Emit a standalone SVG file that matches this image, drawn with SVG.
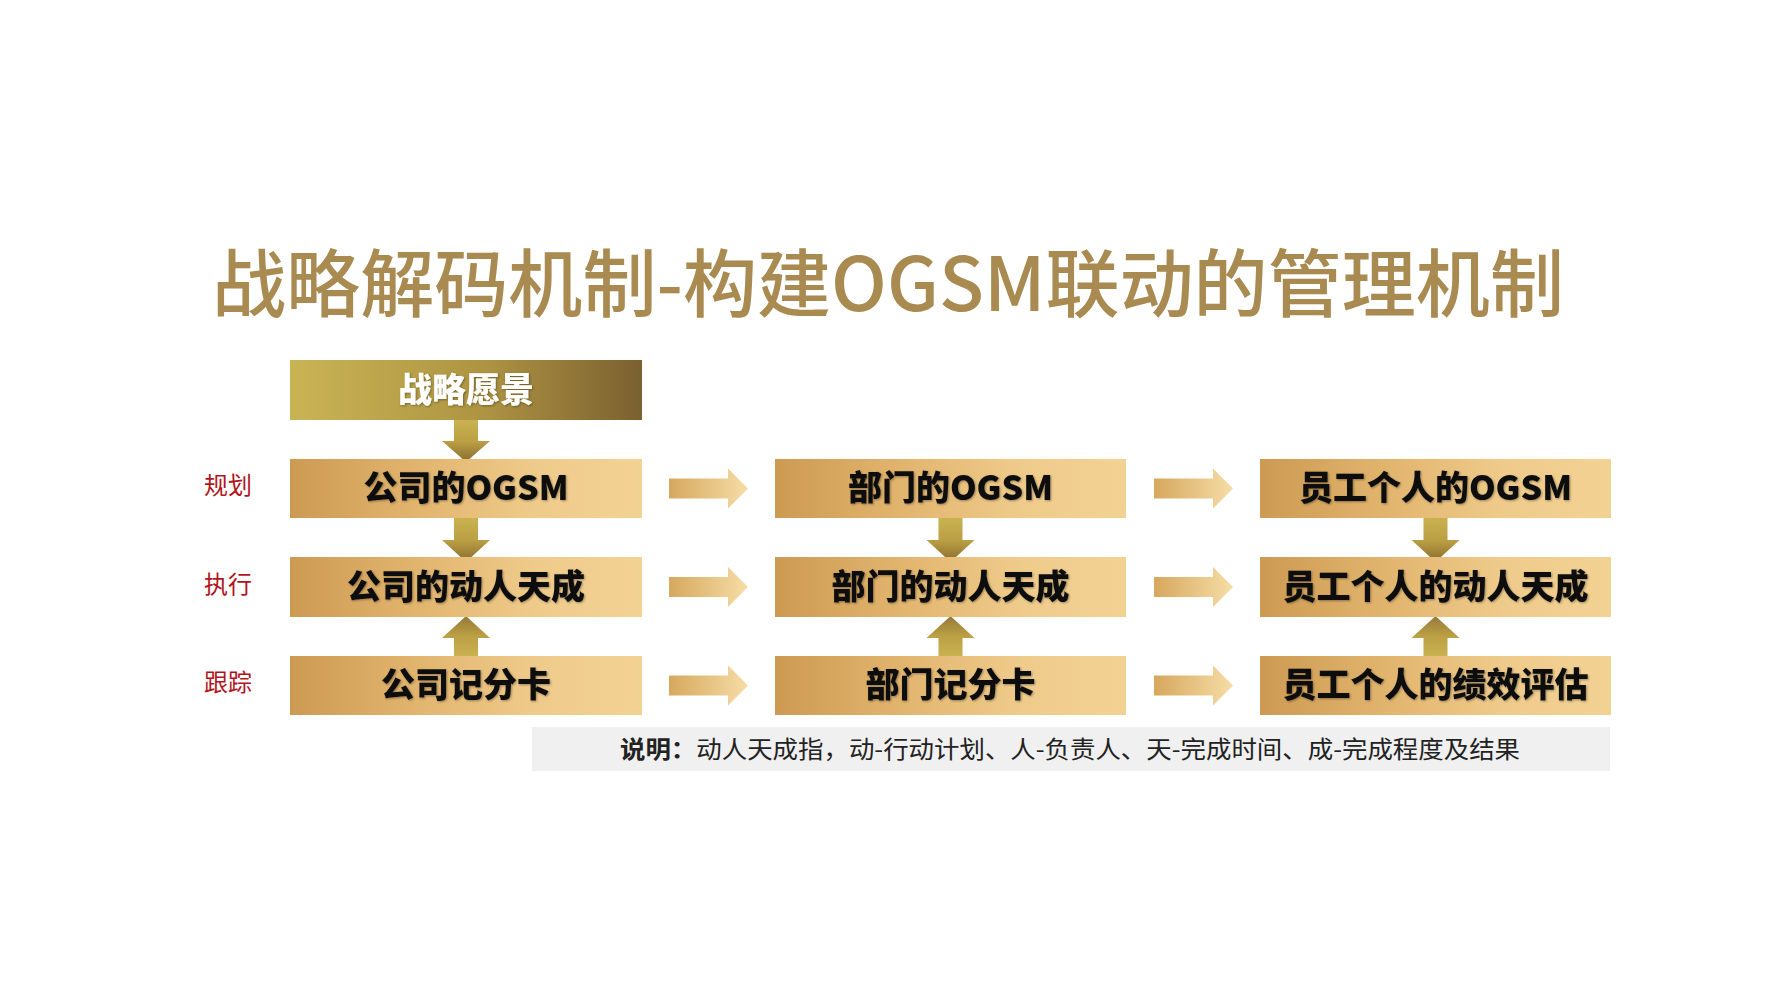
<svg xmlns="http://www.w3.org/2000/svg" width="1778" height="1000" viewBox="0 0 1778 1000">
<defs>
<linearGradient id="gTop" x1="0" y1="0" x2="1" y2="0">
<stop offset="0" stop-color="#C9B455"/>
<stop offset="0.55" stop-color="#AE9442"/>
<stop offset="1" stop-color="#7B6030"/>
</linearGradient>
<linearGradient id="gBox" x1="0" y1="0" x2="1" y2="0">
<stop offset="0" stop-color="#CD9A52"/>
<stop offset="0.35" stop-color="#E1B46D"/>
<stop offset="0.7" stop-color="#EFCB8B"/>
<stop offset="1" stop-color="#F2D293"/>
</linearGradient>
<linearGradient id="gH" x1="0" y1="0" x2="1" y2="0">
<stop offset="0" stop-color="#D6A85E"/>
<stop offset="1" stop-color="#F6DDA6"/>
</linearGradient>
<linearGradient id="gDown" x1="0" y1="0" x2="0" y2="1">
<stop offset="0" stop-color="#C9B150"/>
<stop offset="0.5" stop-color="#BBA044"/>
<stop offset="1" stop-color="#8A6C30"/>
</linearGradient>
<linearGradient id="gUp" x1="0" y1="1" x2="0" y2="0">
<stop offset="0" stop-color="#C9B150"/>
<stop offset="0.5" stop-color="#BBA044"/>
<stop offset="1" stop-color="#94783A"/>
</linearGradient>
<filter id="sh" x="-5%" y="-20%" width="110%" height="140%">
<feDropShadow dx="1" dy="1" stdDeviation="1" flood-color="#000" flood-opacity="0.35"/>
</filter>
</defs>
<style>
.title{font-family:"Noto Sans CJK SC","Liberation Sans",sans-serif;font-size:74px;fill:#A98A50;font-weight:500}
.lbl{font-family:"Noto Sans CJK SC",sans-serif;font-size:34px;font-weight:900;fill:#111;text-anchor:middle}
.lblw{font-family:"Noto Sans CJK SC",sans-serif;font-size:34px;font-weight:900;fill:#fff;text-anchor:middle}
.side{font-family:"Noto Sans CJK SC",sans-serif;font-size:24px;fill:#B0141C;text-anchor:middle}
.note{font-family:"Noto Sans CJK SC",sans-serif;font-size:24px;fill:#222}
.box{fill:url(#gBox)}
.ha{fill:url(#gH)}
.da{fill:url(#gDown)}
.ua{fill:url(#gUp)}
</style>
<rect width="1778" height="1000" fill="#fff"/>
<text class="title" x="212" y="311" textLength="1352" lengthAdjust="spacingAndGlyphs">战略解码机制-构建OGSM联动的管理机制</text>

<g id="side-labels">
<text class="side" x="228" y="494">规划</text>
<text class="side" x="228" y="593">执行</text>
<text class="side" x="228" y="691">跟踪</text>
</g>

<g id="connectors">
<path class="da" d="M454,420 H478 V441 H490 L466,462 L442,441 H454 Z"/>
<path class="da" d="M454,518 H478 V540 H490 L466,562 L442,540 H454 Z"/>
<path class="da" d="M938.5,518 H962.5 V540 H974.5 L950.5,562 L926.5,540 H938.5 Z"/>
<path class="da" d="M1423.5,518 H1447.5 V540 H1459.5 L1435.5,562 L1411.5,540 H1423.5 Z"/>
<path class="ua" d="M454,656 H478 V638 H490 L466,616 L442,638 H454 Z"/>
<path class="ua" d="M938.5,656 H962.5 V638 H974.5 L950.5,616 L926.5,638 H938.5 Z"/>
<path class="ua" d="M1423.5,656 H1447.5 V638 H1459.5 L1435.5,616 L1411.5,638 H1423.5 Z"/>
<path class="ha" d="M669,478.5 H728 V468.5 L748,488.5 L728,508.5 V498.5 H669 Z"/>
<path class="ha" d="M669,577 H728 V567 L748,587 L728,607 V597 H669 Z"/>
<path class="ha" d="M669,675.5 H728 V665.5 L748,685.5 L728,705.5 V695.5 H669 Z"/>
<path class="ha" d="M1154,478.5 H1213 V468.5 L1233,488.5 L1213,508.5 V498.5 H1154 Z"/>
<path class="ha" d="M1154,577 H1213 V567 L1233,587 L1213,607 V597 H1154 Z"/>
<path class="ha" d="M1154,675.5 H1213 V665.5 L1233,685.5 L1213,705.5 V695.5 H1154 Z"/>
</g>

<g id="vision">
<rect x="290" y="360" width="352" height="60" fill="url(#gTop)"/>
<text class="lblw" x="466" y="402" filter="url(#sh)">战略愿景</text>
</g>

<g id="company-ogsm"><rect class="box" x="290" y="459" width="352" height="59"/><text class="lbl" x="466" y="500" filter="url(#sh)">公司的OGSM</text></g>
<g id="dept-ogsm"><rect class="box" x="775" y="459" width="351" height="59"/><text class="lbl" x="950.5" y="500" filter="url(#sh)">部门的OGSM</text></g>
<g id="staff-ogsm"><rect class="box" x="1260" y="459" width="351" height="59"/><text class="lbl" x="1435.5" y="500" filter="url(#sh)">员工个人的OGSM</text></g>

<g id="company-action"><rect class="box" x="290" y="557" width="352" height="60"/><text class="lbl" x="466" y="599" filter="url(#sh)">公司的动人天成</text></g>
<g id="dept-action"><rect class="box" x="775" y="557" width="351" height="60"/><text class="lbl" x="950.5" y="599" filter="url(#sh)">部门的动人天成</text></g>
<g id="staff-action"><rect class="box" x="1260" y="557" width="351" height="60"/><text class="lbl" x="1435.5" y="599" filter="url(#sh)">员工个人的动人天成</text></g>

<g id="company-score"><rect class="box" x="290" y="656" width="352" height="59"/><text class="lbl" x="466" y="697" filter="url(#sh)">公司记分卡</text></g>
<g id="dept-score"><rect class="box" x="775" y="656" width="351" height="59"/><text class="lbl" x="950.5" y="697" filter="url(#sh)">部门记分卡</text></g>
<g id="staff-score"><rect class="box" x="1260" y="656" width="351" height="59"/><text class="lbl" x="1435.5" y="697" filter="url(#sh)">员工个人的绩效评估</text></g>

<g id="note">
<rect x="532" y="727" width="1078" height="44" fill="#F0F0F0"/>
<text class="note" x="620" y="758" textLength="900" lengthAdjust="spacingAndGlyphs"><tspan font-weight="bold">说明：</tspan>动人天成指，动-行动计划、人-负责人、天-完成时间、成-完成程度及结果</text>
</g>
</svg>
